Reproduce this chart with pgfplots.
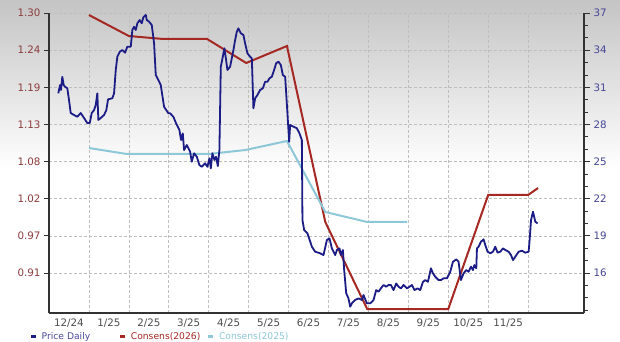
\documentclass[border=0pt]{standalone}
\usepackage{pgfplots}
\pgfplotsset{compat=1.18}
\usepackage{fontspec}
\setmainfont{DejaVu Sans}
\definecolor{pricec}{RGB}{28,28,135}
\definecolor{c26}{RGB}{165,40,35}
\definecolor{c25}{RGB}{140,200,215}
\definecolor{laxis}{RGB}{140,60,60}
\definecolor{raxis}{RGB}{70,70,150}
\definecolor{gridc}{RGB}{190,190,190}
\definecolor{axisc}{RGB}{50,50,50}

\pgfplotstableread{
x y
0.233 30.51
0.276 31.18
0.301 30.78
0.333 31.85
0.368 31.18
0.401 31.05
0.459 30.92
0.501 29.97
0.544 28.92
0.627 28.76
0.709 28.62
0.794 28.92
0.877 28.52
0.960 28.11
1.020 28.11
1.070 28.92
1.128 29.16
1.170 29.57
1.211 30.51
1.236 28.36
1.296 28.52
1.378 28.76
1.436 29.16
1.479 30.03
1.586 30.11
1.629 30.51
1.672 32.40
1.712 33.47
1.772 33.87
1.837 34.01
1.905 33.79
1.962 34.28
2.048 34.28
2.088 35.63
2.130 35.89
2.173 35.63
2.213 36.17
2.273 36.43
2.323 36.17
2.363 36.65
2.424 36.84
2.449 36.43
2.506 36.30
2.574 36.03
2.632 34.55
2.674 31.99
2.739 31.59
2.799 31.18
2.882 29.43
2.990 28.90
3.033 28.90
3.115 28.62
3.183 28.09
3.266 27.55
3.308 26.74
3.351 27.28
3.383 25.93
3.451 26.34
3.534 25.80
3.576 24.99
3.634 25.67
3.702 25.39
3.767 24.72
3.827 24.58
3.910 24.86
3.967 24.58
4.018 25.26
4.053 24.45
4.093 25.67
4.143 25.13
4.185 25.39
4.228 24.64
4.268 25.93
4.303 32.66
4.353 33.47
4.393 34.15
4.436 33.20
4.469 32.40
4.536 32.66
4.586 33.47
4.619 34.01
4.662 34.82
4.704 35.49
4.744 35.76
4.805 35.36
4.870 35.22
4.912 34.55
4.970 33.74
5.038 33.47
5.080 33.34
5.120 29.30
5.163 30.11
5.221 30.38
5.288 30.78
5.356 30.92
5.414 31.45
5.471 31.45
5.521 31.72
5.581 31.85
5.639 32.40
5.689 32.94
5.747 33.07
5.807 32.80
5.857 31.99
5.915 31.85
5.972 28.90
6.015 26.60
6.040 27.95
6.123 27.82
6.208 27.69
6.273 27.28
6.333 26.74
6.348 20.28
6.391 19.47
6.474 19.20
6.584 18.12
6.667 17.72
6.792 17.59
6.875 17.45
6.960 18.66
7.025 18.80
7.085 17.99
7.168 17.45
7.211 17.86
7.276 17.99
7.311 17.45
7.361 17.86
7.393 16.24
7.444 14.36
7.501 13.95
7.544 13.28
7.586 13.55
7.669 13.82
7.752 13.95
7.837 13.82
7.877 14.22
7.962 13.55
8.045 13.55
8.128 13.82
8.195 14.62
8.253 14.49
8.313 14.76
8.378 15.03
8.446 14.89
8.504 15.03
8.564 15.03
8.629 14.62
8.697 15.16
8.754 14.89
8.815 14.76
8.880 15.03
8.965 14.76
9.030 14.89
9.090 15.03
9.155 14.62
9.231 14.76
9.298 14.62
9.366 15.29
9.424 15.43
9.491 15.29
9.566 16.38
9.617 15.97
9.674 15.70
9.757 15.43
9.817 15.43
9.882 15.57
9.967 15.57
10.050 16.10
10.118 16.91
10.201 17.10
10.258 16.91
10.318 15.43
10.383 15.97
10.451 16.24
10.509 16.10
10.569 16.51
10.619 16.24
10.652 16.64
10.702 16.38
10.719 17.99
10.759 18.12
10.820 18.53
10.885 18.72
10.927 18.26
10.985 17.72
11.053 17.59
11.120 17.72
11.178 18.12
11.236 17.64
11.303 17.72
11.371 17.99
11.429 17.86
11.511 17.72
11.571 17.45
11.622 17.05
11.679 17.31
11.762 17.72
11.847 17.80
11.930 17.64
12.013 17.72
12.038 18.66
12.073 20.28
12.123 20.95
12.180 20.14
12.238 20.01
}\pricetable

\begin{document}
\begin{tikzpicture}[x=1pt,y=1pt]
\shade[top color=black!23, bottom color=white] (0,172) rectangle (620,342);
\fill[white] (0,0) rectangle (620,172);

\begin{axis}[
  at={(49pt,29pt)}, anchor=south west, scale only axis,
  width=535pt, height=300pt,
  xmin=0, xmax=13.4, ymin=0.85, ymax=1.30,
  axis y line*=left, axis x line*=bottom,
  axis line style={-, line width=2.2pt, draw=axisc},
  /pgf/number format/assume math mode=true,
  xtick={0.5,1.5,...,11.5},
  xticklabels={12/24,1/25,2/25,3/25,4/25,5/25,6/25,7/25,8/25,9/25,10/25,11/25},
  minor xtick={1,2,...,12},
  xminorgrids, xmajorgrids=false,
  x tick style={draw=none}, minor x tick style={draw=none},
  ytick={0.91,0.9657,1.0214,1.0771,1.1329,1.1886,1.2443,1.30},
  yticklabels={0.91,0.97,1.02,1.08,1.13,1.19,1.24,1.30},
  ymajorgrids,
  y tick style={draw=axisc, line width=0.8pt},
  tick align=outside, major tick length=5pt,
  grid style={densely dashed, gridc, line width=0.6pt},
  minor grid style={densely dashed, gridc, line width=0.6pt},
  xticklabel style={font=\fontsize{10.3}{12}\selectfont, text=black!70, yshift=2.5pt},
  yticklabel style={font=\fontsize{10.3}{12}\selectfont, text=laxis},
  legend columns=3,
  legend style={at={(-0.036,-0.078)}, anchor=west, draw=none, fill=none,
    inner sep=0pt, font=\fontsize{9.2}{10}\selectfont,
    nodes={inner sep=1.5pt}},
  legend cell align=left,
  legend image code/.code={\draw[line width=2.2pt] (0pt,0pt) -- (5pt,0pt);},
]
\addlegendimage{pricec}
\addlegendentry{\makebox[79pt][l]{\hspace{3pt}\textcolor{pricec!80!white}{Price Daily}}}
\addplot[c26, line width=2pt] coordinates {(1.0,1.297)(2.0,1.2655)(2.86,1.261)(3.96,1.261)(4.94,1.225)(5.96,1.2505)(6.92,0.9865)(7.97,0.856)(10.0,0.856)(11.0,1.027)(12.0,1.027)(12.25,1.0375)};
\addlegendentry{\makebox[78pt][l]{\hspace{3pt}\textcolor{c26}{Consens(2026)}}}
\addplot[c25, line width=2pt] coordinates {(1.0,1.0975)(1.95,1.0885)(4.0,1.0885)(4.92,1.0945)(5.96,1.108)(6.92,1.0015)(7.97,0.9865)(8.97,0.9865)};
\addlegendentry{\makebox[78pt][l]{\hspace{3pt}\textcolor{c25}{Consens(2025)}}}
\end{axis}

\begin{axis}[
  at={(49pt,29pt)}, anchor=south west, scale only axis,
  width=535pt, height=300pt,
  xmin=0, xmax=13.4, ymin=12.77, ymax=37,
  axis y line*=right, axis x line=none,
  axis line style={-, line width=1.6pt, draw=axisc},
  /pgf/number format/assume math mode=true,
  ytick={16,19,...,37},
  minor ytick={13,14,...,37},
  tick align=outside, major tick length=6pt, minor tick length=4pt,
  y tick style={draw=axisc, line width=0.8pt},
  minor y tick style={draw=axisc, line width=0.8pt},
  yticklabel style={font=\fontsize{10.3}{12}\selectfont, text=raxis},
]
\addplot[pricec, line width=1.8pt, line join=round] table[x=x, y=y] {\pricetable};
\end{axis}
\pgfresetboundingbox
\useasboundingbox (0,0) rectangle (620,342);
\end{tikzpicture}
\end{document}
